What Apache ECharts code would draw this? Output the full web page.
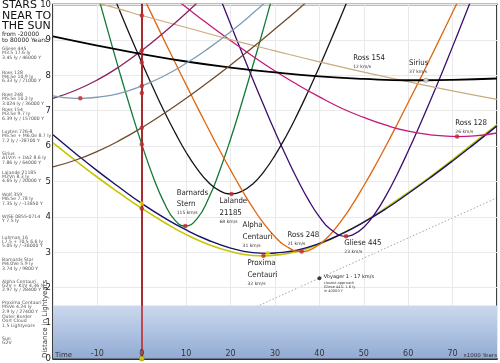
<!DOCTYPE html>
<html><head><meta charset="utf-8">
<script src="https://cdn.jsdelivr.net/npm/echarts@6/dist/echarts.min.js"></script>
<style>html,body{margin:0;padding:0;background:#fff}#c{width:500px;height:363px}</style>
</head><body><div id="c"></div>
<script>
// ---- data (time in 1000 years, distance in light years) ----
const proxima = [[-20,6.09],[-15,5.60],[-10,5.12],[-5,4.67],[0,4.24],[5,3.85],[10,3.50],[15,3.22],[20,3.02],[25,2.91],[27.4,2.90],[30,2.92],[35,3.02],[40,3.23],[45,3.52],[50,3.86],[55,4.26],[60,4.69],[65,5.14],[70,5.62],[75,6.11],[80,6.61]];
const alphaCen = [[-20,6.32],[-15,5.80],[-10,5.30],[-5,4.83],[0,4.38],[5,3.98],[10,3.63],[15,3.34],[20,3.12],[25,2.99],[28.4,2.97],[30,2.98],[35,3.06],[40,3.25],[45,3.52],[50,3.85],[55,4.23],[60,4.66],[65,5.11],[70,5.58],[75,6.07],[80,6.57]];
const barnard = [[-10,10.31],[-7.5,9.19],[-5,8.09],[-2.5,7.04],[0,6.05],[2.5,5.15],[5,4.41],[7.5,3.90],[9.8,3.74],[12.5,3.96],[15,4.51],[17.5,5.29],[20,6.20],[22.5,7.21],[25,8.27],[27.5,9.36],[30,10.49]];
const lalande = [[-7.5,10.60],[-5,9.83],[-2.5,9.08],[0,8.36],[2.5,7.66],[5,6.99],[7.5,6.38],[10,5.82],[12.5,5.35],[15,4.98],[17.5,4.74],[20.2,4.65],[22.5,4.72],[25,4.93],[27.5,5.28],[30,5.74],[32.5,6.28],[35,6.89],[37.5,7.55],[40,8.24],[42.5,8.97],[45,9.71],[47.5,10.47]];
const ross248 = [[0,10.30],[2.5,9.65],[5,9.00],[7.5,8.36],[10,7.73],[12.5,7.10],[15,6.49],[17.5,5.89],[20,5.32],[22.5,4.77],[25,4.26],[27.5,3.81],[30,3.44],[32.5,3.17],[36,3.02],[37.5,3.05],[40,3.22],[42.5,3.51],[45,3.90],[47.5,4.36],[50,4.88],[52.5,5.43],[55,6.01],[57.5,6.61],[60,7.23],[62.5,7.85],[65,8.49],[67.5,9.13],[70,9.78],[72.5,10.43]];
const gliese445 = [[17.5,10.23],[20,9.44],[22.5,8.66],[25,7.89],[27.5,7.14],[30,6.41],[32.5,5.72],[35,5.07],[37.5,4.49],[40,4.00],[42.5,3.65],[46,3.45],[47.5,3.49],[50,3.71],[52.5,4.09],[55,4.60],[57.5,5.20],[60,5.86],[62.5,6.56],[65,7.29],[67.5,8.04],[70,8.81],[72.5,9.60],[75,10.39]];
const ross128 = [[5,10.41],[10,9.92],[15,9.44],[20,8.98],[25,8.54],[30,8.12],[35,7.74],[40,7.39],[45,7.07],[50,6.81],[55,6.59],[60,6.42],[65,6.32],[71,6.27],[75,6.29],[80,6.37]];
const ross154 = [[-10,10.04],[-5,9.87],[0,9.69],[10,9.35],[20,9.01],[30,8.69],[40,8.38],[50,8.09],[60,7.82],[70,7.56],[80,7.32]];
const luyten = [[-20,7.35],[-15,7.57],[-10,7.87],[-5,8.25],[0,8.70],[5,9.21],[10,9.76],[15,10.35]];
const sirius = [[-20,9.10],[-10,8.84],[0,8.60],[10,8.39],[20,8.22],[30,8.08],[40,7.97],[50,7.90],[60,7.86],[64,7.86],[70,7.87],[80,7.91]];
const wolf359 = [[-20,7.42],[-15,7.35],[-13.85,7.35],[-10,7.38],[-5,7.49],[0,7.70],[5,7.98],[10,8.34],[15,8.76],[20,9.23],[25,9.75],[30,10.31]];
const luhman16 = [[-20,5.41],[-15,5.60],[-10,5.85],[-5,6.16],[0,6.52],[5,6.92],[10,7.35],[15,7.81],[20,8.29],[25,8.79],[30,9.31],[35,9.84],[40,10.39]];
const voyager = [[0,0],[80,4.54]];
const voyagerMark = [40,2.27];
const oortBorder = 1.5;
// closest approaches
const closestRed = [[9.8,3.74],[20.2,4.65],[27.4,2.90],[36,3.02],[46,3.45],[71,6.27],[-13.85,7.35]];
const closestYellow = [[28.4,2.97]];
const closestGray = [[64,7.86]];
// distances today (t = 0)
const todayRed = [9.69,8.70,8.36,7.70,7.50,6.52,6.05,4.24];
const todayYellow = [4.38];
const sun = [0,0];
const xTicks = [-10,0,10,20,30,40,50,60,70];

const legendBlocks = [
 ['Gliese 445','M3.5 17.6 ly','3.45 ly / 46000 Y'],
 ['Ross 128','M4.5e 10.9 ly','6.33 ly / 71000 Y'],
 ['Ross 248','M5.5e 10.3 ly','3.024 ly / 36000 Y'],
 ['Ross 154','M3.5e 9.7 ly','6.39 ly / 157000 Y'],
 ['Luyten 726-8','M5.5e + M6.0e 8.7 ly','7.2 ly / -28700 Y'],
 ['Sirius','A1Vm + DA2 8.6 ly','7.86 ly / 64000 Y'],
 ['Lalande 21185','M2Vn 8.3 ly','4.65 ly / 20000 Y'],
 ['Wolf 359','M6.5e 7.78 ly','7.35 ly / -13850 Y'],
 ['WISE 0855-0714','Y 7.5 ly'],
 ['Luhman 16','L7.5 + T0.5 6.6 ly','5.05 ly / -36000 Y'],
 ['Barnards Star','M4.0Ve 5.9 ly','3.74 ly / 9800 Y'],
 ['Alpha Centauri','G2V + K1V 4.36 ly','2.97 ly / 28400 Y'],
 ['Proxima Centauri','M5Ve 4.24 ly','2.9 ly / 27400 Y'],
 ['Outer Border','Oort Cloud','1.5 Lightyears'],
 ['Sun','G2V']
];
const legendTop = [49,72.5,95,110,132,154,172.5,195,217,237.5,260,281.5,303,317,339];

const labels = [
 {t:7.87,d:4.80,names:['Barnards','Stern'],speed:'115 km/s'},
 {t:17.5,d:4.55,names:['Lalande','21185'],speed:'68 km/s'},
 {t:22.7,d:3.88,names:['Alpha','Centauri'],speed:'31 km/s'},
 {t:23.8,d:2.81,names:['Proxima','Centauri'],speed:'32 km/s'},
 {t:32.8,d:3.60,names:['Ross 248'],speed:'21 km/s'},
 {t:45.6,d:3.37,names:['Gliese 445'],speed:'23 km/s'},
 {t:70.6,d:6.77,names:['Ross 128'],speed:'26 km/s'},
 {t:60.2,d:8.46,names:['Sirius'],speed:'37 km/s'},
 {t:47.6,d:8.60,names:['Ross 154'],speed:'12 km/s'}
];
const voyagerText = ['Voyager 1 - 17 km/s','closest approach','Gliese 445: 1.6 ly','in 40000 Y'];

// ---- styles ----
const starStyle = [
 [proxima,'#c8c400',1.6],[alphaCen,'#14146a',1.4],[barnard,'#137a35',1.3],[lalande,'#151515',1.3],
 [ross248,'#e0650f',1.3],[gliese445,'#3d0d6e',1.3],[ross128,'#c4187a',1.3],[ross154,'#c9ab7c',1.2],
 [luyten,'#8c1f5c',1.3],[sirius,'#000000',1.8],[wolf359,'#7d9db3',1.3],[luhman16,'#6e4c2c',1.3]
];
const FONT = 'DejaVu Sans';
const NARROW = '"Liberation Sans Narrow","DejaVu Sans Condensed","Liberation Sans"';

const series = [];
series.push({
  type:'line', data:voyager, symbol:'none', silent:true, z:-1,
  lineStyle:{color:'#b59aac', width:1, type:[1.5,2]},
  markArea:{silent:true, itemStyle:{color:new echarts.graphic.LinearGradient(0,0,0,1,[{offset:0,color:'#cbd9ed'},{offset:1,color:'#92abd4'}])},
    data:[[{yAxis:0},{yAxis:oortBorder}]]}
});
starStyle.forEach(([data,color,w]) => series.push({
  type:'line', data, smooth:0.5, symbol:'none', clip:true,
  lineStyle:{color, width:w}, silent:true, z:3
}));
series.push({type:'line', data:[], silent:true, z:4,
  markLine:{silent:true, symbol:['none','none'], label:{show:false}, lineStyle:{color:'#c0282d',width:1.6,type:'solid'}, data:[{xAxis:0}]}});
const dot = (data,color,size,border) => ({type:'scatter', data, symbolSize:size, silent:true, z:5,
  itemStyle:{color, borderColor:border||color, borderWidth:border?0.8:0}});
series.push(dot(closestRed,'#c0282d',4.5));
series.push(dot(closestYellow,'#e6e000',4.5));
series.push(dot(closestGray,'#f2f2f2',4.5,'#888'));
series.push(dot(todayRed.map(d=>[0,d]),'#c0282d',4.5));
series.push(dot(todayYellow.map(d=>[0,d]),'#e6e000',4.5));
series.push(dot([sun],'#f0e000',5,'#887700'));
series.push(dot([voyagerMark],'#111',4));

const chart = echarts.init(document.getElementById('c'));
chart.setOption({
  animation:false,
  grid:{left:53,right:1,top:3,bottom:4,show:true,borderColor:'#000',borderWidth:1.5,backgroundColor:'transparent'},
  xAxis:[
    {type:'value',min:-20,max:80,interval:10,
      axisLine:{show:true,lineStyle:{color:'#000',width:1.5}},axisTick:{show:false},
      splitLine:{show:true,lineStyle:{color:'#e9e9e9',width:1}},axisLabel:{show:false}},
    {type:'value',min:-20,max:80,interval:10,position:'bottom',z:20,
      axisLine:{show:false},axisTick:{show:false},splitLine:{show:false},
      axisLabel:{inside:true,margin:1,fontFamily:FONT,fontSize:8,color:'#333',
        formatter:v=>xTicks.includes(v)?String(v):''}}
  ],
  yAxis:{type:'value',min:0,max:10,interval:1,
    axisLine:{show:true,lineStyle:{color:'#000',width:1.5}},axisTick:{show:false},
    splitLine:{show:true,lineStyle:{color:'#e9e9e9',width:1}},
    axisLabel:{margin:2,fontFamily:FONT,fontSize:8.5,color:'#222'}},
  series
});

// ---- texts ----
const g = [];
g.push({type:'text',z:100,left:2,top:0,style:{text:'STARS\nNEAR TO\nTHE SUN',font:'11px '+FONT,fill:'#111',lineHeight:10.5}});
g.push({type:'text',z:100,left:2,top:31,style:{text:'from -20000\nto 80000 Years',font:'6px '+FONT,fill:'#222',lineHeight:6.5}});
legendBlocks.forEach((b,i)=>{
  g.push({type:'text',z:100,left:2,top:legendTop[i]-2.5,style:{text:b.join('\n'),font:'4.6px '+FONT,fill:'#555',lineHeight:4.2}});
});
g.push({type:'text',z:100,x:45,y:358,rotation:Math.PI/2,style:{text:'Distance in Lightyears',font:'7px '+FONT,fill:'#333',align:'left',verticalAlign:'middle'}});
g.push({type:'text',z:100,x:55,y:355,style:{text:'Time',font:'7px '+FONT,fill:'#333',verticalAlign:'middle'}});
g.push({type:'text',z:100,x:497,y:355.5,style:{text:'x1000 Years',font:'5.5px '+FONT,fill:'#333',align:'right',verticalAlign:'middle'}});
labels.forEach(L=>{
  const [px,py] = chart.convertToPixel({gridIndex:0},[L.t,L.d]);
  L.names.forEach((n,i)=>{
    g.push({type:'text',x:px,y:py+i*11.5,z:100,style:{text:n,font:'7.8px '+NARROW,fill:'#222',verticalAlign:'top'}});
  });
  g.push({type:'text',x:px,y:py+L.names.length*11.5-1,z:100,style:{text:L.speed,font:'4.5px '+FONT,fill:'#333',verticalAlign:'top'}});
});
{
  const [px,py] = chart.convertToPixel({gridIndex:0},[voyagerMark[0]+1,voyagerMark[1]+0.05]);
  g.push({type:'text',x:px,y:py,z:100,style:{text:voyagerText[0],font:'5px '+FONT,fill:'#222',verticalAlign:'middle'}});
  g.push({type:'text',x:px,y:py+5,z:100,style:{text:voyagerText.slice(1).join('\n'),font:'3.6px '+FONT,fill:'#444',lineHeight:4,verticalAlign:'top'}});
}
chart.setOption({graphic:g});
</script></body></html>
